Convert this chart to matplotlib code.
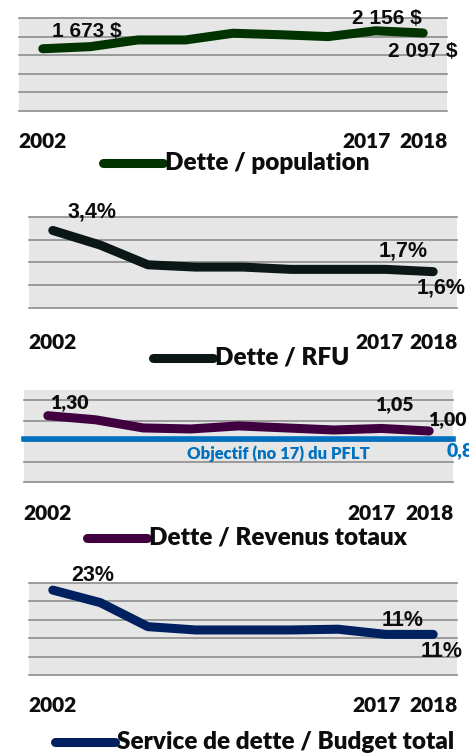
import matplotlib
matplotlib.use("Agg")
import matplotlib.pyplot as plt
from matplotlib.lines import Line2D

# ---------------- data ----------------
year_labels = ["2002", "", "", "", "", "", "", "2017", "2018"]
dette_population = [1673, 1730, 1910, 1910, 2090, 2050, 2000, 2156, 2097]
dette_rfu = [0.034, 0.0276, 0.019, 0.018, 0.018, 0.017, 0.017, 0.017, 0.016]
dette_revenus = [1.30, 1.22, 1.06, 1.04, 1.10, 1.06, 1.02, 1.05, 1.00]
service_budget = [0.23, 0.196, 0.131, 0.122, 0.122, 0.122, 0.124, 0.11, 0.11]
objectif_pflt = 0.85
labelled_points = [0, 7, 8]
legend_names = ["Dette / population", "Dette / RFU", "Dette / Revenus totaux",
                "Service de dette / Budget total"]

W, H = 469, 755
fig = plt.figure(figsize=(W / 100, H / 100), dpi=100)
fig.patch.set_facecolor("white")

CAL = ["Lato", "DejaVu Sans"]
ARI = ["Liberation Sans", "DejaVu Sans"]
BG = "#E6E6E6"
GRID = "#8C8C8C"
TXT = "#0D0D0D"


def px_axes(l, t, r, b):
    return fig.add_axes([l / W, 1 - b / H, (r - l) / W, (b - t) / H])


def setup(ax, ymax, step, nlines):
    ax.set_facecolor(BG)
    ax.set_xlim(-0.5, len(year_labels) - 0.5)
    ax.set_ylim(0, ymax)
    for s in ax.spines.values():
        s.set_visible(False)
    ax.set_xticks([])
    ax.set_yticks([])
    for k in range(nlines):
        ax.axhline(k * step, color=GRID, lw=1.2, zorder=1, clip_on=False)


def xlabels(ax, dy, dxs):
    for i, lab in enumerate(year_labels):
        if lab:
            ax.annotate(lab, xy=(i, 0), xycoords=("data", "axes fraction"),
                        xytext=(dxs.get(i, 0), dy), textcoords="offset pixels",
                        ha="center", va="center", fontsize=15, fontweight="heavy",
                        family=CAL, color=TXT, annotation_clip=False)


def legend(x0, x1, y, color, text):
    fig.add_artist(Line2D([x0 / W, x1 / W], [1 - y / H, 1 - y / H], color=color,
                          lw=6.5, solid_capstyle="round"))
    fig.text((x1 + 2) / W, 1 - y / H, text, ha="left", va="center",
             fontsize=17.5, fontweight="heavy", family=CAL, color=TXT)


def line(ax, vals, color):
    ax.plot(range(len(vals)), vals, color=color, lw=6.5, solid_capstyle="round",
            solid_joinstyle="round", zorder=3, clip_on=False)


def labels(ax, vals, fmt, offsets, fam, size, weight="bold"):
    for i, (dx, dy) in zip(labelled_points, offsets):
        ax.annotate(fmt(vals[i]), xy=(i, vals[i]), xytext=(dx, dy),
                    textcoords="offset pixels", ha="center", va="center",
                    fontsize=size, fontweight=weight, family=fam, color=TXT,
                    annotation_clip=False, zorder=4)


def fr_money(v):
    return f"{v:,.0f} $".replace(",", " ")


# ---------------- panel 1 ----------------
ax1 = px_axes(19, 18, 447, 111)
setup(ax1, 2500, 500, 6)
line(ax1, dette_population, "#003300")
labels(ax1, dette_population, fr_money, [(44, 17), (11, 12), (0, -19)], ARI, 15)
xlabels(ax1, -31, {7: -9})
legend(103, 163, 163, "#003300", legend_names[0])

# ---------------- panel 2 ----------------
ax2 = px_axes(29, 216.7, 457, 308.3)
setup(ax2, 0.04, 0.01, 5)
line(ax2, dette_rfu, "#0B1616")
labels(ax2, dette_rfu, lambda v: f"{v*100:.1f}%".replace(".", ","),
       [(39, 18), (18, 18), (8, -16)], ARI, 15.5)
xlabels(ax2, -34, {7: -6})
legend(153, 213, 358, "#0B1616", legend_names[1])

# ---------------- panel 3 ----------------
ax3 = px_axes(24, 390.2, 453, 482)
setup(ax3, 1.8, 0.4, 5)
ax3.axhline(objectif_pflt, color="#0070C0", lw=4, zorder=2, clip_on=False)
line(ax3, dette_revenus, "#400040")
labels(ax3, dette_revenus, lambda v: f"{v:.2f}".replace(".", ","),
       [(21, 13), (13, 24), (18, 11)], CAL, 14, "heavy")
ax3.annotate(f"{objectif_pflt:.2f}".replace(".", ","), xy=(1, objectif_pflt),
             xycoords=("axes fraction", "data"), xytext=(-6, -12),
             textcoords="offset pixels", ha="left", va="center", fontsize=14,
             fontweight="heavy", family=CAL, color="#0070C0", annotation_clip=False)
ax3.annotate("Objectif (no 17) du PFLT", xy=(0, objectif_pflt),
             xycoords=("axes fraction", "data"), xytext=(254, -15),
             textcoords="offset pixels", ha="center", va="center", fontsize=12,
             fontweight="heavy", family=CAL, color="#0070C0", annotation_clip=False)
xlabels(ax3, -31, {7: -10})
legend(87, 147, 538, "#400040", legend_names[2])

# ---------------- panel 4 ----------------
ax4 = px_axes(29, 582.7, 457, 675)
setup(ax4, 0.25, 0.05, 6)
line(ax4, service_budget, "#002060")
labels(ax4, service_budget, lambda v: f"{v*100:.0f}%",
       [(40, 15), (17, 14), (8, -17)], ARI, 15.5)
xlabels(ax4, -31, {7: -9})
legend(55, 115, 742, "#002060", legend_names[3])

fig.savefig("out.png", dpi=100, facecolor="white")
